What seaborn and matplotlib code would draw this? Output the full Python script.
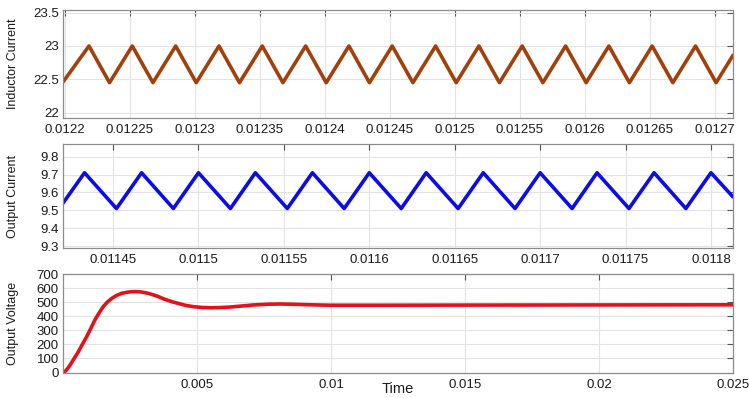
import numpy as np
import pandas as pd
import seaborn as sns
import matplotlib
matplotlib.use("Agg")
import matplotlib.pyplot as plt

# ---- inductor current (ripple vertices) ----
il_time = [0.0121985, 0.0122185, 0.0122343, 0.0122518, 0.0122677, 0.0122852,
           0.0123010, 0.0123185, 0.0123343, 0.0123518, 0.0123677, 0.0123852,
           0.0124010, 0.0124185, 0.0124343, 0.0124518, 0.0124677, 0.0124852,
           0.0125010, 0.0125185, 0.0125343, 0.0125518, 0.0125677, 0.0125852,
           0.0126010, 0.0126185, 0.0126343, 0.0126518, 0.0126677, 0.0126852,
           0.0127010, 0.0127140]
il_value = [22.46, 23.00, 22.45, 23.00, 22.45, 23.00,
            22.45, 23.00, 22.45, 23.00, 22.45, 23.00,
            22.45, 23.00, 22.45, 23.00, 22.45, 23.00,
            22.45, 23.00, 22.45, 23.00, 22.45, 23.00,
            22.45, 23.00, 22.45, 23.00, 22.45, 23.00,
            22.45, 22.86]
il_xticks = [0.0122, 0.01225, 0.0123, 0.01235, 0.0124, 0.01245,
             0.0125, 0.01255, 0.0126, 0.01265, 0.0127]
il_xlabels = ["0.0122", "0.01225", "0.0123", "0.01235", "0.0124", "0.01245",
              "0.0125", "0.01255", "0.0126", "0.01265", "0.0127"]
il_yticks = [22, 22.5, 23, 23.5]
il_ylabels = ["22", "22.5", "23", "23.5"]

# ---- output current (ripple vertices) ----
io_time = [0.0114207, 0.0114333, 0.0114520, 0.0114667, 0.0114853, 0.0115000,
           0.0115187, 0.0115333, 0.0115520, 0.0115667, 0.0115853, 0.0116000,
           0.0116187, 0.0116333, 0.0116520, 0.0116667, 0.0116853, 0.0117000,
           0.0117187, 0.0117333, 0.0117520, 0.0117667, 0.0117853, 0.0118000,
           0.0118129]
io_value = [9.54, 9.71, 9.51, 9.71, 9.51, 9.71,
            9.51, 9.71, 9.51, 9.71, 9.51, 9.71,
            9.51, 9.71, 9.51, 9.71, 9.51, 9.71,
            9.51, 9.71, 9.51, 9.71, 9.51, 9.71,
            9.575]
io_xticks = [0.01145, 0.0115, 0.01155, 0.0116, 0.01165, 0.0117, 0.01175, 0.0118]
io_xlabels = ["0.01145", "0.0115", "0.01155", "0.0116", "0.01165",
              "0.0117", "0.01175", "0.0118"]
io_yticks = [9.3, 9.4, 9.5, 9.6, 9.7, 9.8]
io_ylabels = ["9.3", "9.4", "9.5", "9.6", "9.7", "9.8"]

# ---- output voltage (start-up transient) ----
vo_time = [0.0, 0.00005, 0.0001, 0.00017, 0.00026, 0.0004, 0.00057, 0.00072,
           0.00088, 0.00104, 0.00119, 0.00135, 0.0015, 0.00166, 0.00182,
           0.002, 0.00219, 0.0024, 0.00255, 0.00269, 0.0029, 0.00318, 0.0035,
           0.0038, 0.0041, 0.0044, 0.0046, 0.00486, 0.0052, 0.00549, 0.0058,
           0.00623, 0.0067, 0.0071, 0.0076, 0.0081, 0.0086, 0.0091, 0.0095,
           0.01, 0.0118, 0.015, 0.02, 0.025]
vo_value = [0, 4, 12, 28, 52, 95, 147, 200,
            254, 315, 374, 425, 469, 502, 528,
            549, 564, 572, 575, 576, 574, 564, 545,
            521, 502, 487, 477, 469, 463, 461, 462,
            466, 474, 481, 486, 488, 486, 483, 481,
            479, 479, 480, 481, 482]
vo_xticks = [0.005, 0.01, 0.015, 0.02, 0.025]
vo_xlabels = ["0.005", "0.01", "0.015", "0.02", "0.025"]
vo_yticks = [0, 100, 200, 300, 400, 500, 600, 700]
vo_ylabels = ["0", "100", "200", "300", "400", "500", "600", "700"]

sns.set_style("whitegrid")
plt.rcParams["font.family"] = ["Liberation Sans", "DejaVu Sans"]

fig = plt.figure(figsize=(7.49, 3.98), dpi=100)
W, H = 749.0, 398.0


def make_axes(left, top, right, bottom):
    return fig.add_axes([left / W, 1 - bottom / H, (right - left) / W, (bottom - top) / H])


ax1 = make_axes(63, 10, 733, 118)
ax2 = make_axes(63, 144, 733, 248)
ax3 = make_axes(63, 273.5, 733, 372.5)

df1 = pd.DataFrame({"t": il_time, "v": il_value})
df2 = pd.DataFrame({"t": io_time, "v": io_value})
df3 = pd.DataFrame({"t": vo_time, "v": vo_value})

sns.lineplot(data=df1, x="t", y="v", ax=ax1, color="#a2400c", linewidth=2.6,
             sort=False, estimator=None)
sns.lineplot(data=df2, x="t", y="v", ax=ax2, color="#0c0ce6", linewidth=2.6,
             sort=False, estimator=None)
sns.lineplot(data=df3, x="t", y="v", ax=ax3, color="#e6101a", linewidth=2.6,
             sort=False, estimator=None)

settings = [
    (ax1, (0.0121985, 0.012714), (21.92, 23.54), il_xticks, il_xlabels, il_yticks, il_ylabels, "Inductor Current"),
    (ax2, (0.0114207, 0.0118129), (9.289, 9.871), io_xticks, io_xlabels, io_yticks, io_ylabels, "Output Current"),
    (ax3, (0.0, 0.025), (0, 705), vo_xticks, vo_xlabels, vo_yticks, vo_ylabels, "Output Voltage"),
]

for ax, xl, yl, xt, xtl, yt, ytl, lab in settings:
    ax.set_xlim(*xl)
    ax.set_ylim(*yl)
    ax.set_xticks(xt)
    ax.set_xticklabels(xtl)
    ax.set_yticks(yt)
    ax.set_yticklabels(ytl)
    ax.set_xlabel("")
    ax.set_ylabel(lab, fontsize=9, color="#1a1a1a")
    ax.yaxis.set_label_coords(-0.066, 0.5)
    ax.grid(True, color="#e3e3e3", linewidth=0.8)
    for s in ax.spines.values():
        s.set_visible(True)
        s.set_color("#8c8c8c")
        s.set_linewidth(0.9)
    ax.tick_params(axis="both", which="both", direction="in", length=4,
                   width=0.8, color="#555555", labelsize=9.5,
                   labelcolor="#1a1a1a", top=True, right=True)
    ax.tick_params(axis="x", pad=4.5)
    ax.tick_params(axis="y", pad=3)
    ax.set_facecolor("white")

ax3.set_xlabel("Time", fontsize=10.5, color="#1a1a1a", labelpad=-6)

fig.savefig("out.png", dpi=100)
